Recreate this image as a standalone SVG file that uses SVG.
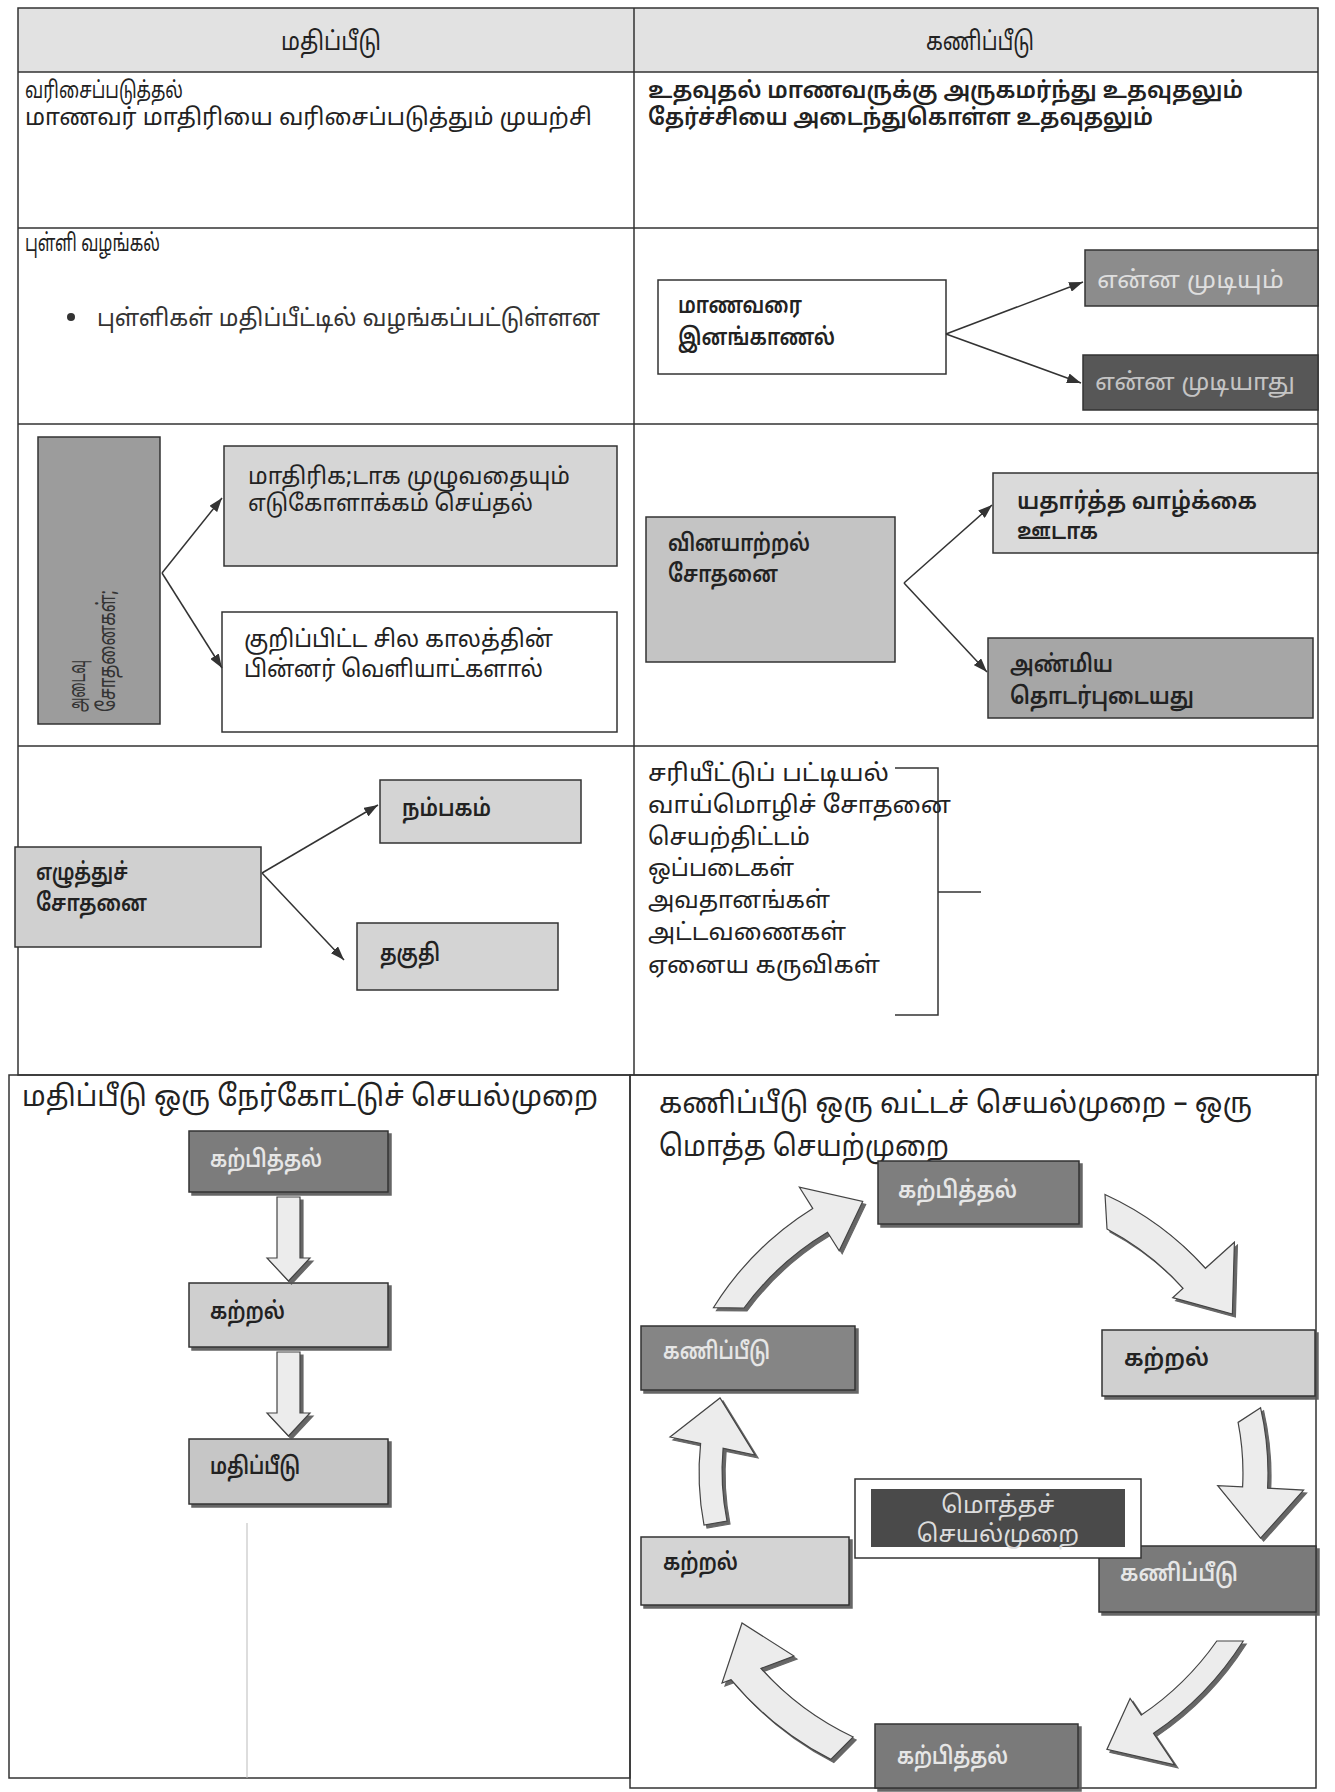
<svg xmlns="http://www.w3.org/2000/svg" width="1335" height="1792" viewBox="0 0 1335 1792">
<style>
.t{font-family:"Noto Sans Tamil","Noto Sans Tamil UI","Lohit Tamil","Noto Sans",sans-serif;fill:#222;font-size:24px}
.s{font-size:23px}
.h{font-size:26px}
.ti{font-size:29px}
.b{font-weight:600}
.ln{fill:none;stroke:#333;stroke-width:1.5}
.bx{stroke:#333;stroke-width:1.5}
.cn{fill:none;stroke:#333;stroke-width:1.5;marker-end:url(#ah)}
.ca{fill:#ececec;stroke:#444;stroke-width:1.2;filter:url(#sh)}
.sb{filter:url(#sh)}
</style>
<defs>
<marker id="ah" markerUnits="userSpaceOnUse" markerWidth="14" markerHeight="10" refX="14" refY="5" orient="auto"><path d="M0,0 L14,5 L0,10 Z" fill="#333"/></marker>
<filter id="sh" x="-10%" y="-10%" width="130%" height="130%"><feDropShadow dx="3" dy="3" stdDeviation="0.6" flood-color="#555" flood-opacity="0.9"/></filter>
</defs>
<rect width="1335" height="1792" fill="#fff"/>
<g id="table">
<rect x="18" y="8" width="1300" height="64" fill="#e2e2e2"/>
<rect x="18" y="8" width="1300" height="1067" class="ln"/>
<path class="ln" d="M18,72 H1318 M18,228 H1318 M18,424 H1318 M18,746 H1318 M634,8 V1075"/>
<rect x="9" y="1075" width="621" height="703" class="ln"/>
<rect x="630" y="1075" width="686" height="713" class="ln"/>
<line x1="247" y1="1523" x2="247" y2="1778" stroke="#bbb" stroke-width="1"/>
</g>
<g id="header">
<text class="t h" x="281" y="50" textLength="100" lengthAdjust="spacingAndGlyphs">மதிப்பீடு</text>
<text class="t h" x="926" y="50" textLength="108" lengthAdjust="spacingAndGlyphs">கணிப்பீடு</text>
</g>
<g id="row1">
<text class="t s" x="25" y="98" textLength="158" lengthAdjust="spacingAndGlyphs">வரிசைப்படுத்தல்</text>
<text class="t s" x="25" y="125" textLength="567" lengthAdjust="spacingAndGlyphs">மாணவர் மாதிரியை வரிசைப்படுத்தும் முயற்சி</text>
<text class="t s b" x="648" y="98" textLength="595" lengthAdjust="spacingAndGlyphs">உதவுதல் மாணவருக்கு அருகமர்ந்து உதவுதலும்</text>
<text class="t s b" x="648" y="125" textLength="505" lengthAdjust="spacingAndGlyphs">தேர்ச்சியை அடைந்துகொள்ள உதவுதலும்</text>
</g>
<g id="row2">
<text class="t" x="25" y="251" textLength="135" lengthAdjust="spacingAndGlyphs">புள்ளி வழங்கல்</text>
<circle cx="71" cy="317" r="4" fill="#333"/>
<text class="t" x="97" y="326" textLength="503" lengthAdjust="spacingAndGlyphs" style="fill:#333">புள்ளிகள் மதிப்பீட்டில் வழங்கப்பட்டுள்ளன</text>
</g>
<g id="node-identify">
<rect x="658" y="280" width="288" height="94" fill="#fff" class="bx"/>
<text class="t b" x="678" y="313" textLength="124" lengthAdjust="spacingAndGlyphs">மாணவரை</text>
<text class="t b" x="678" y="345" textLength="157" lengthAdjust="spacingAndGlyphs">இனங்காணல்</text>
</g>
<g id="node-can">
<rect x="1085" y="250" width="233" height="56" fill="#8c8c8c" class="bx"/>
<text class="t" x="1097" y="288" textLength="187" lengthAdjust="spacingAndGlyphs" style="fill:#dedede">என்ன முடியும்</text>
</g>
<g id="node-cannot">
<rect x="1083" y="355" width="235" height="55" fill="#575757" class="bx"/>
<text class="t" x="1095" y="390" textLength="200" lengthAdjust="spacingAndGlyphs" style="fill:#c4c4c4">என்ன முடியாது</text>
</g>
<g id="node-achievement">
<rect x="38" y="437" width="122" height="287" fill="#9c9c9c" class="bx"/>
<text class="t" transform="translate(85,712) rotate(-90)" textLength="52" lengthAdjust="spacingAndGlyphs" style="fill:#333">அடைவு</text>
<text class="t" transform="translate(115,712) rotate(-90)" textLength="122" lengthAdjust="spacingAndGlyphs" style="fill:#333">சோதனைகள்;</text>
</g>
<g id="node-sample">
<rect x="224" y="446" width="393" height="120" fill="#d6d6d6" class="bx"/>
<text class="t s" x="248" y="484" textLength="322" lengthAdjust="spacingAndGlyphs">மாதிரிக;டாக முழுவதையும்</text>
<text class="t s" x="248" y="511" textLength="285" lengthAdjust="spacingAndGlyphs">எடுகோளாக்கம் செய்தல்</text>
</g>
<g id="node-external">
<rect x="222" y="612" width="395" height="120" fill="#fff" class="bx"/>
<text class="t" x="244" y="647" textLength="309" lengthAdjust="spacingAndGlyphs">குறிப்பிட்ட சில காலத்தின்</text>
<text class="t" x="244" y="677" textLength="299" lengthAdjust="spacingAndGlyphs">பின்னர் வெளியாட்களால்</text>
</g>
<g id="node-performance">
<rect x="646" y="517" width="249" height="145" fill="#c4c4c4" class="bx"/>
<text class="t b" x="668" y="551" textLength="142" lengthAdjust="spacingAndGlyphs">வினயாற்றல்</text>
<text class="t b" x="668" y="582" textLength="110" lengthAdjust="spacingAndGlyphs">சோதனை</text>
</g>
<g id="node-reallife">
<rect x="993" y="473" width="325" height="80" fill="#dadada" class="bx"/>
<text class="t b" x="1017" y="509" textLength="240" lengthAdjust="spacingAndGlyphs">யதார்த்த வாழ்க்கை</text>
<text class="t b" x="1017" y="539" textLength="81" lengthAdjust="spacingAndGlyphs">ஊடாக</text>
</g>
<g id="node-related">
<rect x="988" y="638" width="325" height="80" fill="#a6a6a6" class="bx"/>
<text class="t b" x="1010" y="672" textLength="103" lengthAdjust="spacingAndGlyphs">அண்மிய</text>
<text class="t b" x="1010" y="704" textLength="184" lengthAdjust="spacingAndGlyphs">தொடர்புடையது</text>
</g>
<g id="node-written">
<rect x="15" y="847" width="246" height="100" fill="#d0d0d0" class="bx"/>
<text class="t b" x="36" y="880" textLength="92" lengthAdjust="spacingAndGlyphs">எழுத்துச்</text>
<text class="t b" x="36" y="911" textLength="111" lengthAdjust="spacingAndGlyphs">சோதனை</text>
</g>
<g id="node-reliability">
<rect x="380" y="780" width="201" height="63" fill="#d4d4d4" class="bx"/>
<text class="t b" x="402" y="816" textLength="89" lengthAdjust="spacingAndGlyphs">நம்பகம்</text>
</g>
<g id="node-validity">
<rect x="357" y="923" width="201" height="67" fill="#d4d4d4" class="bx"/>
<text class="t b" x="380" y="961" textLength="60" lengthAdjust="spacingAndGlyphs">தகுதி</text>
</g>
<g id="node-tools">
<text class="t" x="648" y="781" textLength="241" lengthAdjust="spacingAndGlyphs">சரியீட்டுப் பட்டியல்</text>
<text class="t" x="648" y="813" textLength="303" lengthAdjust="spacingAndGlyphs">வாய்மொழிச் சோதனை</text>
<text class="t" x="648" y="845" textLength="162" lengthAdjust="spacingAndGlyphs">செயற்திட்டம்</text>
<text class="t" x="648" y="876" textLength="146" lengthAdjust="spacingAndGlyphs">ஒப்படைகள்</text>
<text class="t" x="648" y="908" textLength="182" lengthAdjust="spacingAndGlyphs">அவதானங்கள்</text>
<text class="t" x="648" y="940" textLength="198" lengthAdjust="spacingAndGlyphs">அட்டவணைகள்</text>
<text class="t" x="648" y="973" textLength="232" lengthAdjust="spacingAndGlyphs">ஏனைய கருவிகள்</text>
</g>
<g id="titles">
<text class="t ti" x="22" y="1106" textLength="576" lengthAdjust="spacingAndGlyphs">மதிப்பீடு ஒரு நேர்கோட்டுச் செயல்முறை</text>
<text class="t ti" x="659" y="1113" textLength="593" lengthAdjust="spacingAndGlyphs">கணிப்பீடு ஒரு வட்டச் செயல்முறை – ஒரு</text>
<text class="t ti" x="659" y="1156" textLength="290" lengthAdjust="spacingAndGlyphs">மொத்த செயற்முறை</text>
</g>
<g id="lin-teach">
<rect x="189" y="1131" width="199" height="61" fill="#7c7c7c" class="bx sb"/>
<text class="t b" x="210" y="1167" textLength="112" lengthAdjust="spacingAndGlyphs" style="fill:#e6e6e6">கற்பித்தல்</text>
</g>
<g id="lin-learn">
<rect x="189" y="1283" width="199" height="64" fill="#cfcfcf" class="bx sb"/>
<text class="t b" x="210" y="1319" textLength="75" lengthAdjust="spacingAndGlyphs">கற்றல்</text>
</g>
<g id="lin-eval">
<rect x="189" y="1439" width="199" height="65" fill="#c6c6c6" class="bx sb"/>
<text class="t b" x="210" y="1474" textLength="90" lengthAdjust="spacingAndGlyphs">மதிப்பீடு</text>
</g>
<g id="cyc-teach-top">
<rect x="878" y="1161" width="201" height="63" fill="#7e7e7e" class="bx sb"/>
<text class="t b" x="898" y="1198" textLength="119" lengthAdjust="spacingAndGlyphs" style="fill:#e6e6e6">கற்பித்தல்</text>
</g>
<g id="cyc-assess-left">
<rect x="641" y="1326" width="214" height="64" fill="#858585" class="bx sb"/>
<text class="t b" x="663" y="1359" textLength="107" lengthAdjust="spacingAndGlyphs" style="fill:#e6e6e6">கணிப்பீடு</text>
</g>
<g id="cyc-learn-right">
<rect x="1102" y="1330" width="213" height="66" fill="#d0d0d0" class="bx sb"/>
<text class="t b" x="1124" y="1366" textLength="85" lengthAdjust="spacingAndGlyphs">கற்றல்</text>
</g>
<g id="cyc-learn-left">
<rect x="641" y="1537" width="208" height="68" fill="#d4d4d4" class="bx sb"/>
<text class="t b" x="663" y="1570" textLength="75" lengthAdjust="spacingAndGlyphs">கற்றல்</text>
</g>
<g id="cyc-assess-right">
<rect x="1099" y="1546" width="217" height="66" fill="#7a7a7a" class="bx sb"/>
<text class="t b" x="1120" y="1581" textLength="118" lengthAdjust="spacingAndGlyphs" style="fill:#e6e6e6">கணிப்பீடு</text>
</g>
<g id="cyc-teach-bottom">
<rect x="875" y="1724" width="203" height="64" fill="#7a7a7a" class="bx sb"/>
<text class="t b" x="897" y="1764" textLength="111" lengthAdjust="spacingAndGlyphs" style="fill:#e6e6e6">கற்பித்தல்</text>
</g>
<g id="cyc-whole">
<rect x="855" y="1479" width="286" height="79" fill="#fff" class="bx"/>
<rect x="871" y="1489" width="254" height="58" fill="#4a4a4a"/>
<text class="t" x="998" y="1513" text-anchor="middle" style="fill:#dcdcdc">மொத்தச்</text>
<text class="t" x="998" y="1542" text-anchor="middle" style="fill:#dcdcdc">செயல்முறை</text>
</g>
<g id="connectors">
<path class="cn" d="M946,334 L1083,282"/>
<path class="cn" d="M946,334 L1081,383"/>
<path class="cn" d="M162,573 L222,498"/>
<path class="cn" d="M162,573 L222,668"/>
<path class="cn" d="M904,583 L992,505"/>
<path class="cn" d="M904,583 L987,672"/>
<path class="cn" d="M262,873 L378,805"/>
<path class="cn" d="M262,873 L344,960"/>
<path class="ln" d="M895,768 H938 V1015 H895 M938,892 H981"/>
<path class="ca" d="M277,1197 H300 V1258 H310 L288.5,1281 L267,1258 H277 Z"/>
<path class="ca" d="M277,1352 H300 V1413 H310 L288.5,1436 L267,1413 H277 Z"/>
<path class="ca" d="M713.4,1307.7 A312,312 0 0 1 812.7,1208.4 L799.4,1187.2 L862.7,1201.5 L839.2,1250.8 L827.5,1232.2 A284,284 0 0 0 744,1308 Z"/>
<path class="ca" d="M1105,1194.5 A306,306 0 0 1 1205.4,1268.3 L1234.4,1242.2 L1232.4,1314 L1172.7,1297.7 L1183.1,1288.3 A276,276 0 0 0 1107,1229 Z"/>
<path class="ca" d="M1260.6,1407.8 A290,290 0 0 1 1267.6,1488.2 L1303.6,1490.1 L1260.6,1538.2 L1217.7,1485.6 L1242.6,1486.9 A265,265 0 0 0 1238.1,1422.4 Z"/>
<path class="ca" d="M1243.3,1641 A314,314 0 0 1 1153.6,1733.3 L1174.8,1764.8 L1106.9,1749.4 L1130.1,1698.5 L1141.3,1715.1 A292,292 0 0 0 1216.8,1641 Z"/>
<path class="ca" d="M830.8,1759.4 A322,322 0 0 1 731,1679.6 L722,1683 L742,1623 L794,1656 L760.9,1668.4 A292,292 0 0 0 853.2,1737 Z"/>
<path class="ca" d="M704,1525 A279,279 0 0 1 700.6,1443.5 L670,1437 L720,1398 L755,1455 L723.1,1448.3 A256,256 0 0 0 727,1521 Z"/>
</g>
</svg>
